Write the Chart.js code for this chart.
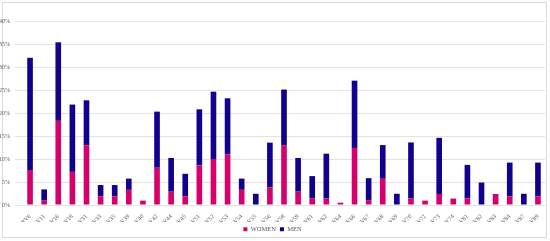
<!DOCTYPE html>
<html>
<head>
<meta charset="utf-8">
<script src="https://cdn.jsdelivr.net/npm/chart.js@4/dist/chart.umd.min.js"></script>
<style>
    body { margin: 0; background: #ffffff; }
    #frame {
        position: absolute;
        left: 2px; top: 2px;
        width: 543px; height: 234px;
        border: 1px solid #d9d9d9;
    }
    #wrap { position: absolute; left: 0; top: 0; width: 550px; height: 241px; }
</style>
</head>
<body>
<div id="frame"></div>
<div id="wrap"><canvas id="hpv_chart"></canvas></div>
<script>
// categories
const types = ['HPV6','HPV11','HPV16','HPV18','HPV31','HPV33','HPV35','HPV39','HPV40','HPV42',
    'HPV44','HPV45','HPV51','HPV52','HPV53','HPV54','HPV55','HPV56','HPV58','HPV59',
    'HPV61','HPV62','HPV64','HPV66','HPV67','HPV68','HPV69','HPV70','HPV72','HPV73',
    'HPV74','HPV81','HPV82','HPV83','HPV84','HPV87','HPV89'];

// % of women / men positive for each type
const women = [7.6, 0.95, 18.3, 7.2, 13.0, 1.9, 1.9, 3.3, 0.95, 8.1,
    2.9, 1.9, 8.6, 10.0, 11.0, 3.3, 0, 3.8, 12.9, 2.9,
    1.4, 1.4, 0.5, 12.4, 0.95, 5.7, 0, 1.4, 0.95, 2.4,
    1.4, 1.4, 0, 2.4, 1.9, 0, 1.9];
const men = [24.4, 2.44, 17.07, 14.63, 9.76, 2.44, 2.44, 2.44, 0, 12.2,
    7.32, 4.88, 12.2, 14.63, 12.2, 2.44, 2.44, 9.76, 12.2, 7.32,
    4.88, 9.76, 0, 14.63, 4.88, 7.32, 2.44, 12.2, 0, 12.2,
    0, 7.32, 4.88, 0, 7.32, 2.44, 7.32];

const yTicks = [0, 5, 10, 15, 20, 25, 30, 35, 40];

const colors = {
    women: '#d4006c',
    men: '#12008f',
};

const tickFont = { family: "'Liberation Serif', 'DejaVu Serif', serif", size: 6 };

const options = {
    responsive: true,
    maintainAspectRatio: false,
    animation: false,
    layout: {
        padding: { left: 0, right: 5, top: 21, bottom: -1.6 },
    },
    plugins: {
        legend: {
            display: true,
            position: 'bottom',
            labels: {
                boxWidth: 4,
                boxHeight: 4,
                padding: 4,
                color: '#595959',
                font: { family: "'Liberation Serif', 'DejaVu Serif', serif", size: 6.5 },
            },
        },
        tooltip: { enabled: false },
    },
    scales: {
        x: {
            stacked: true,
            grid: { display: false, drawBorder: false },
            border: { display: false },
            ticks: {
                autoSkip: false,
                minRotation: 45,
                maxRotation: 45,
                padding: 0,
                color: '#595959',
                font: tickFont,
            },
            afterFit: function (scale) { scale.height = 17.1; },
        },
        y: {
            stacked: true,
            min: 0,
            max: 40,
            border: { display: false },
            grid: { color: '#e3e3e3', lineWidth: 1 },
            afterBuildTicks: function (scale) {
                scale.ticks = yTicks.map(function (v) { return { value: v }; });
            },
            ticks: {
                padding: 5,
                color: '#595959',
                font: tickFont,
                callback: function (value) { return value + '%'; },
            },
            afterFit: function (scale) { scale.width = 23; },
        },
    },
};

const chartInfo = {
    labels: types,
    datasets: [
        {
            label: 'WOMEN',
            backgroundColor: colors.women,
            borderWidth: 0,
            barPercentage: 0.4,
            categoryPercentage: 1.0,
            data: women,
        },
        {
            label: 'MEN',
            backgroundColor: colors.men,
            borderWidth: 0,
            barPercentage: 0.4,
            categoryPercentage: 1.0,
            data: men,
        },
    ],
};

var ctx = document.getElementById('hpv_chart').getContext('2d');
var myChart = new Chart(ctx, {
    type: 'bar',
    data: chartInfo,
    options: options,
});
</script>
</body>
</html>
